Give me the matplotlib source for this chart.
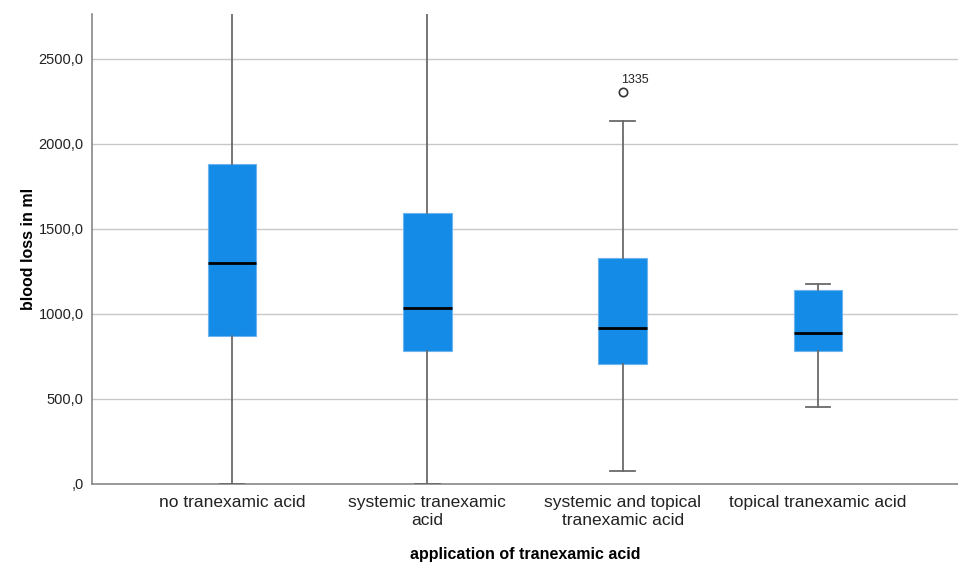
import matplotlib

matplotlib.use("Agg")
import matplotlib.pyplot as plt
from matplotlib.ticker import FuncFormatter

plt.rcParams["font.family"] = ["Liberation Sans", "DejaVu Sans"]

# blood loss (ml) per group
groups = [
    "no tranexamic acid",
    "systemic tranexamic\nacid",
    "systemic and topical\ntranexamic acid",
    "topical tranexamic acid",
]
whisker_lo = [0, 0, 78, 455]
q1 = [870, 785, 706, 785]
median = [1300, 1035, 919, 887]
q3 = [1880, 1595, 1328, 1141]
whisker_hi = [2770, 2770, 2137, 1175]
outliers = [[], [], [2307], []]
outlier_ids = [[], [], ["1335"], []]

BOX_BLUE = "#148be6"


def _fmt(v, _pos):
    # SPSS style: comma decimal, zero printed as ",0"
    if v == 0:
        return ",0"
    return f"{v:.1f}".replace(".", ",")


stats = []
for i, name in enumerate(groups):
    stats.append(
        {
            "label": name,
            "whislo": whisker_lo[i],
            "q1": q1[i],
            "med": median[i],
            "q3": q3[i],
            "whishi": whisker_hi[i],
            "fliers": outliers[i],
        }
    )

fig = plt.figure(figsize=(9.58, 5.67), dpi=100)
ax = fig.add_axes([0.096, 0.1464, 0.904, 0.829])

ax.bxp(
    stats,
    positions=[1, 2, 3, 4],
    widths=0.25,
    capwidths=0.125,
    patch_artist=True,
    boxprops=dict(facecolor=BOX_BLUE, edgecolor="#6db4ee", linewidth=0.8),
    medianprops=dict(color="black", linewidth=2.0),
    whiskerprops=dict(color="#6a6a6a", linewidth=1.3),
    capprops=dict(color="#6a6a6a", linewidth=1.3),
    flierprops=dict(marker="o", markerfacecolor="white", markeredgecolor="#333333",
                    markersize=6, markeredgewidth=1.2),
    zorder=3,
)

for i, ids in enumerate(outlier_ids):
    for val, lab in zip(outliers[i], ids):
        ax.annotate(lab, (i + 1, val), xytext=(-1, 6), textcoords="offset points",
                    fontsize=9, color="#222222")

ax.set_xlim(0.283, 4.717)
ax.set_ylim(0, 2765)
ax.set_yticks([0, 500, 1000, 1500, 2000, 2500])
ax.yaxis.set_major_formatter(FuncFormatter(_fmt))
ax.grid(axis="y", color="#c8c8c8", linewidth=1.0, zorder=0)
ax.set_axisbelow(True)

for side in ("top", "right"):
    ax.spines[side].set_visible(False)
ax.spines["left"].set_color("#888888")
ax.spines["bottom"].set_color("#888888")
ax.spines["left"].set_linewidth(1.2)
ax.spines["bottom"].set_linewidth(1.2)

ax.tick_params(axis="both", length=0)
ax.tick_params(axis="y", labelsize=10.5, pad=6, labelcolor="#222222")
ax.tick_params(axis="x", labelsize=12.5, pad=8, labelcolor="#222222")
ax.set_xticks([1, 2, 3, 4])
ax.set_xticklabels(groups, linespacing=1.2)

ax.set_ylabel("blood loss in ml", fontsize=11.5, fontweight="bold", labelpad=2)
ax.set_xlabel("application of tranexamic acid", fontsize=11.5, fontweight="bold", labelpad=14)

fig.savefig("out.png", dpi=100)
